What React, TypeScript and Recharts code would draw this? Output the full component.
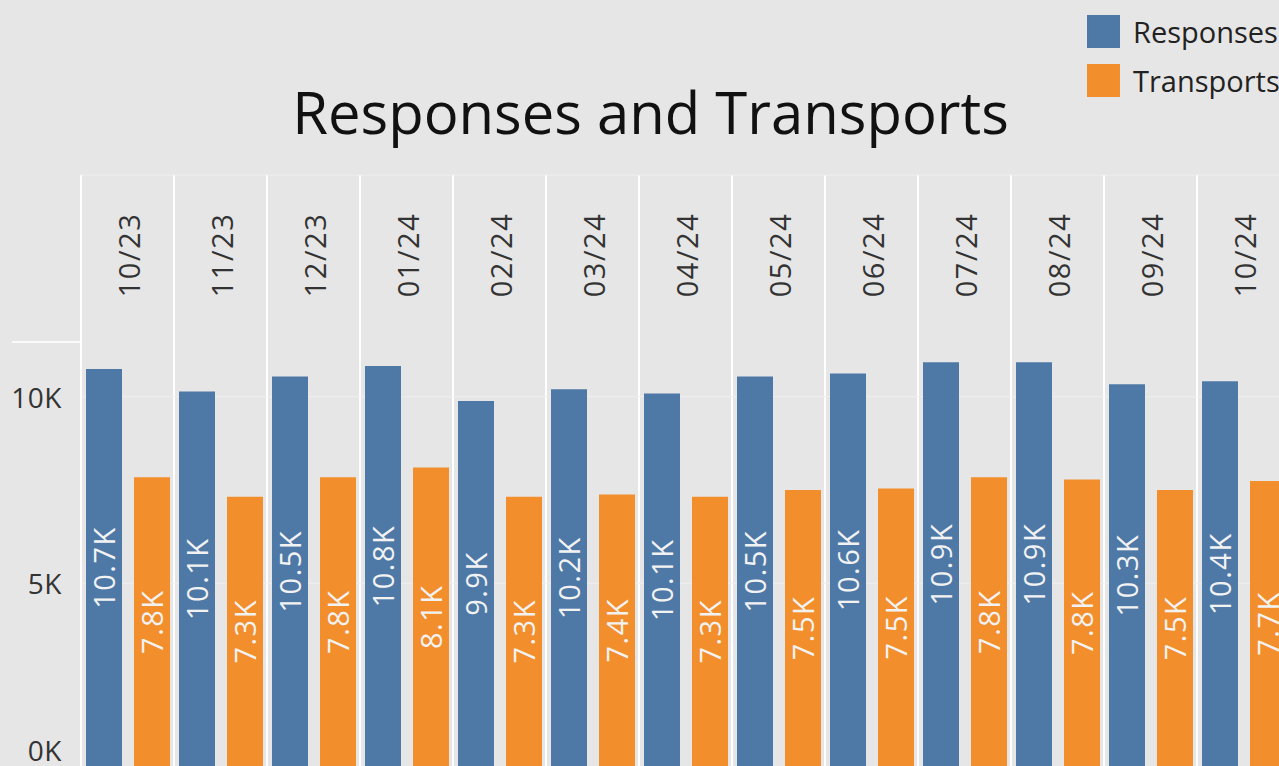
import React from "react";
import { BarChart, Bar, XAxis, YAxis, CartesianGrid, Legend, LabelList } from "recharts";

const months = ["10/23", "11/23", "12/23", "01/24", "02/24", "03/24", "04/24", "05/24", "06/24", "07/24", "08/24", "09/24", "10/24"];
const responses = [10740, 10140, 10540, 10820, 9880, 10200, 10080, 10540, 10620, 10920, 10920, 10330, 10410];
const transports = [7840, 7320, 7840, 8100, 7320, 7380, 7320, 7500, 7540, 7840, 7780, 7500, 7740];
const yTicks = [0, 5000, 10000];
const colTicks = months.map((_, i) => i).concat(months.length);

const data = months.map((m, i) => ({ month: m, col: i, Responses: responses[i], Transports: transports[i] }));

const BLUE = "#4e79a7";
const ORANGE = "#f28e2b";
const BG = "#e6e6e6";
const FONT = "'Open Sans', 'Noto Sans', sans-serif";
const VIEW_H = 766;

const fmtK = (v: number) => (v / 1000).toFixed(1) + "K";

function MonthTick(props: any) {
  const { x, y, payload } = props;
  const cx = x + 1;
  const cy = y + 80;
  return (
    <text x={cx} y={cy} transform={`rotate(-90 ${cx} ${cy})`} textAnchor="middle" dominantBaseline="central"
      fill="#333" fontSize={29} letterSpacing={1.5} fontFamily={FONT}>
      {payload.value}
    </text>
  );
}

function ValueTick(props: any) {
  const { x, y, payload } = props;
  const ty = Math.min(y, VIEW_H - 16);
  return (
    <text x={x} y={ty} textAnchor="end" dominantBaseline="central" fill="#333" fontSize={28} letterSpacing={0.5} fontFamily={FONT}>
      {payload.value / 1000 + "K"}
    </text>
  );
}

function BarValue(props: any) {
  const { x, y, width, height, value } = props;
  const bottom = Math.min(y + height, VIEW_H);
  const cx = x + width / 2;
  const cy = (y + bottom) / 2;
  return (
    <text x={cx} y={cy} transform={`rotate(-90 ${cx} ${cy})`} textAnchor="middle" dominantBaseline="central"
      fill="#f2f2f2" fontSize={29} letterSpacing={1.5} fontFamily={FONT}>
      {fmtK(value)}
    </text>
  );
}

function LegendBox(props: any) {
  const { payload } = props;
  return (
    <div style={{ fontFamily: FONT }}>
      {(payload || []).map((p: any) => (
        <div key={p.value} style={{ display: "flex", alignItems: "center", height: 49 }}>
          <div style={{ width: 33, height: 33, background: p.color, marginRight: 13 }} />
          <span style={{ fontSize: 29, color: "#222", whiteSpace: "nowrap" }}>{p.value}</span>
        </div>
      ))}
    </div>
  );
}

export default function App() {
  return (
    <div style={{ position: "absolute", top: 0, left: 0, width: 1279, height: VIEW_H, overflow: "hidden", background: BG }}>
      <div style={{ position: "absolute", top: 72, left: 0, width: 1301, textAlign: "center", fontFamily: FONT, fontSize: 58, color: "#111", lineHeight: "80px" }}>
        Responses and Transports
      </div>
      <div style={{ position: "absolute", top: 341, left: 12, width: 68, height: 2, background: "#fafafa" }} />
      <BarChart width={1300} height={790} data={data} margin={{ top: 174, right: 10, bottom: 20, left: 0 }}
        barSize={36} barGap={12} style={{ position: "absolute", top: 0, left: 0 }}>
        <XAxis xAxisId="cols" dataKey="col" type="number" domain={[0, months.length]} ticks={colTicks} hide allowDataOverflow />
        <CartesianGrid xAxisId="cols" vertical horizontal={false} stroke="#ffffff" strokeWidth={2} />
        <CartesianGrid vertical={false} stroke="#efefef" strokeWidth={1} />
        <XAxis dataKey="month" orientation="top" height={1} interval={0} tickLine={false} axisLine={false}
          tickSize={0} tickMargin={0} tick={<MonthTick />} />
        <YAxis domain={[0, 15935]} ticks={yTicks} width={81} tickLine={false} axisLine={false} tickSize={0}
          tickMargin={19} tick={<ValueTick />} allowDataOverflow />
        <Legend layout="vertical" align="center" verticalAlign="middle" content={<LegendBox />}
          wrapperStyle={{ top: 7, left: 1087, width: 300 }} />
        <Bar dataKey="Responses" fill={BLUE} isAnimationActive={false}>
          <LabelList dataKey="Responses" content={<BarValue />} />
        </Bar>
        <Bar dataKey="Transports" fill={ORANGE} isAnimationActive={false}>
          <LabelList dataKey="Transports" content={<BarValue />} />
        </Bar>
      </BarChart>
    </div>
  );
}
